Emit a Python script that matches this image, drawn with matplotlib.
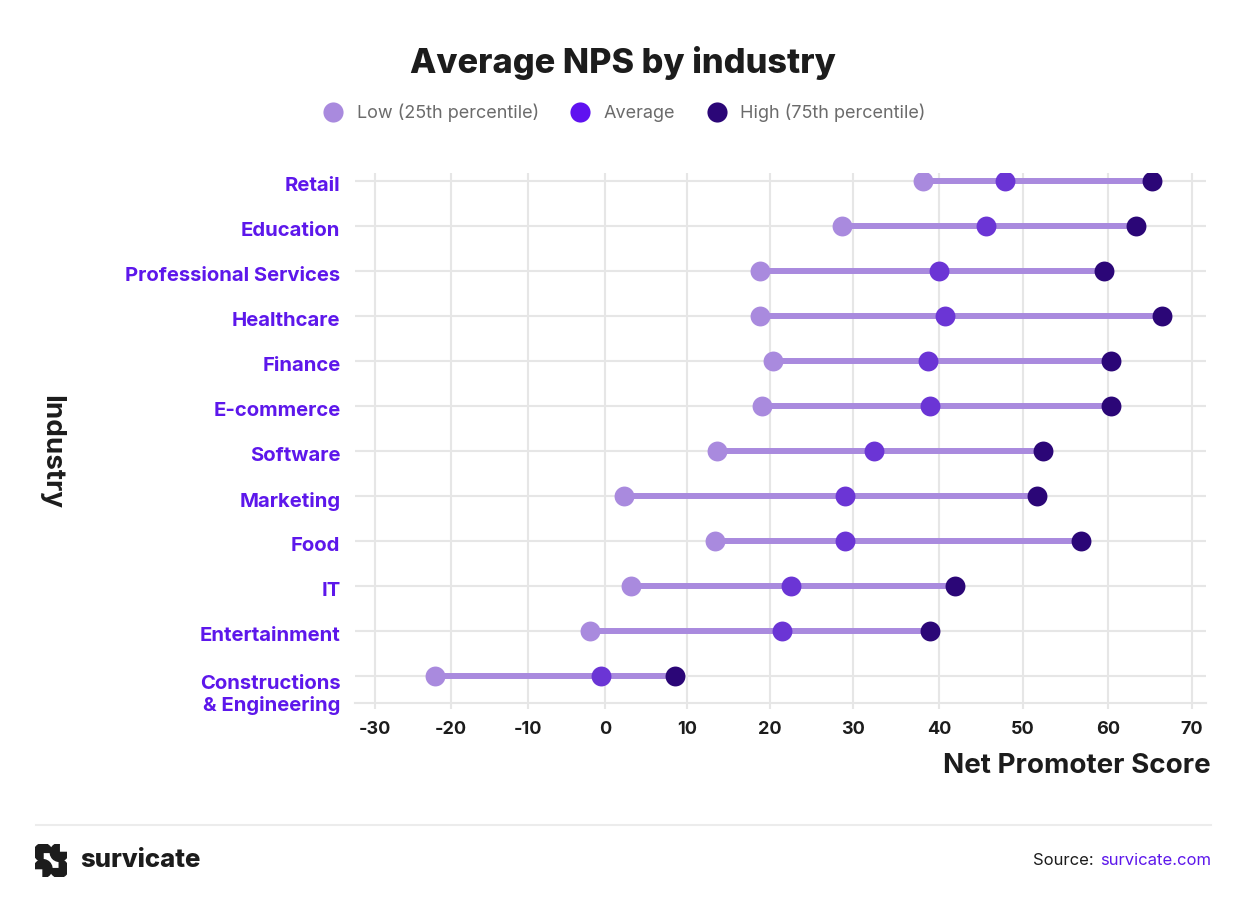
import matplotlib
matplotlib.use("Agg")
import matplotlib.pyplot as plt
import matplotlib.transforms as mtransforms
from matplotlib.lines import Line2D
from matplotlib.patches import Wedge
import numpy as np

plt.rcParams['font.family'] = ['Inter', 'DejaVu Sans']

# data, bottom row first
industries = ["Constructions\n& Engineering", "Entertainment", "IT", "Food", "Marketing",
              "Software", "E-commerce", "Finance", "Healthcare", "Professional Services",
              "Education", "Retail"]
low = [-22.1, -1.9, 3.2, 13.4, 2.3, 13.6, 19.0, 20.4, 18.8, 18.8, 28.7, 38.1]
average = [-0.5, 21.4, 22.5, 29.0, 29.0, 32.4, 39.0, 38.7, 40.7, 40.0, 45.6, 47.9]
high = [8.5, 39.0, 41.9, 56.8, 51.6, 52.4, 60.4, 60.4, 66.4, 59.5, 63.3, 65.2]
x_ticks = [-30, -20, -10, 0, 10, 20, 30, 40, 50, 60, 70]

# the source chart spaces its gridlines slightly unevenly; mimic that with a piecewise scale
grid_pos = [0, 76, 153, 230, 312, 395, 478, 564, 648, 733, 817]
scale_x = [-40] + x_ticks + [80]
scale_p = [-76] + grid_pos + [901]

def fwd(v):
    return np.interp(v, scale_x, scale_p)

def inv(p):
    return np.interp(p, scale_p, scale_x)

c_low = "#a98ade"
c_avg = "#6b35d5"
c_avg_legend = "#5f12f0"
c_high = "#2b0677"
c_label = "#5d17eb"
c_grid = "#e6e6e6"
c_dark = "#1c1c1c"

fig = plt.figure(figsize=(12.47, 9.02), dpi=100)
ax = fig.add_axes([0.2847, 0.2206, 0.6824, 0.5876])
ax.set_xscale('function', functions=(fwd, inv))

y = np.arange(len(industries))
ax.hlines(y, low, high, color=c_low, lw=4.3, zorder=2)
ax.scatter(low, y, s=205, color=c_low, zorder=3, linewidths=0)
ax.scatter(average, y, s=205, color=c_avg, zorder=4, linewidths=0)
ax.scatter(high, y, s=205, color=c_high, zorder=5, linewidths=0)

ax.set_xlim(-32.63, 71.67)
ax.set_ylim(-0.6, 11.18)
ax.set_xticks(x_ticks)
ax.set_xticks([], minor=True)
ax.set_xticklabels([str(t) for t in x_ticks], fontsize=13, fontweight='bold', color=c_dark)
ax.set_yticks(y)
ax.set_yticklabels(industries, fontsize=14.6, fontweight='bold', color=c_label,
                   linespacing=1.2)
ax.tick_params(axis='y', length=0, pad=10.5)
ax.tick_params(axis='x', length=4, width=1.5, color=c_grid, pad=9)
ax.grid(True, color=c_grid, lw=1.5, zorder=0)
ax.set_axisbelow(True)
for side in ['top', 'right', 'left']:
    ax.spines[side].set_visible(False)
ax.spines['bottom'].set_color(c_grid)
ax.spines['bottom'].set_linewidth(1.5)

# labels sit a touch below their rows; the two-line one further down
for i, lab in enumerate(ax.get_yticklabels()):
    dy = -0.15 if i == 0 else -0.03
    lab.set_transform(lab.get_transform() + mtransforms.ScaledTranslation(0, dy, fig.dpi_scale_trans))

fig.text(0.971, 0.151, "Net Promoter Score", ha='right', va='center', fontsize=20,
         fontweight='bold', color=c_dark)
fig.text(0.041, 0.499, "Industry", ha='center', va='center', rotation=-90, fontsize=20,
         fontweight='bold', color=c_dark)

fig.text(0.4995, 0.930, "Average NPS by industry", ha='center', va='center',
         fontsize=24.7, fontweight='heavy', color=c_dark)

handles = [Line2D([], [], marker='o', ls='', ms=14.5, color=c, mec='none')
           for c in (c_low, c_avg_legend, c_high)]
fig.legend(handles, ["Low (25th percentile)", "Average", "High (75th percentile)"],
           loc='center', bbox_to_anchor=(0.4975, 0.875), ncol=3, frameon=False,
           fontsize=13, labelcolor="#6b6b6b", handletextpad=0.3, columnspacing=1.3)

# footer
fig.add_artist(Line2D([0.029, 0.971], [0.085, 0.085], color="#ececec", lw=1.5))
fig.text(0.971, 0.046, "survicate.com", ha='right', va='center', fontsize=12, color=c_label)
fig.text(0.8773, 0.046, "Source:", ha='right', va='center', fontsize=12, color=c_dark)
fig.text(0.064, 0.046, "survicate", ha='left', va='center', fontsize=18.5,
         fontweight='heavy', color=c_dark)
logo = fig.add_axes([0.028, 0.028, 0.026, 0.036])
logo.set_xlim(0, 2)
logo.set_ylim(0, 2)
logo.set_aspect('equal')
logo.axis('off')
for cx, cy, a in [(0.5, 1.5, 0), (1.5, 1.5, 90), (0.5, 0.5, 270), (1.5, 0.5, 180)]:
    logo.add_patch(Wedge((cx, cy), 0.55, a, a + 270, color=c_dark))

fig.savefig("out.png", dpi=100)
